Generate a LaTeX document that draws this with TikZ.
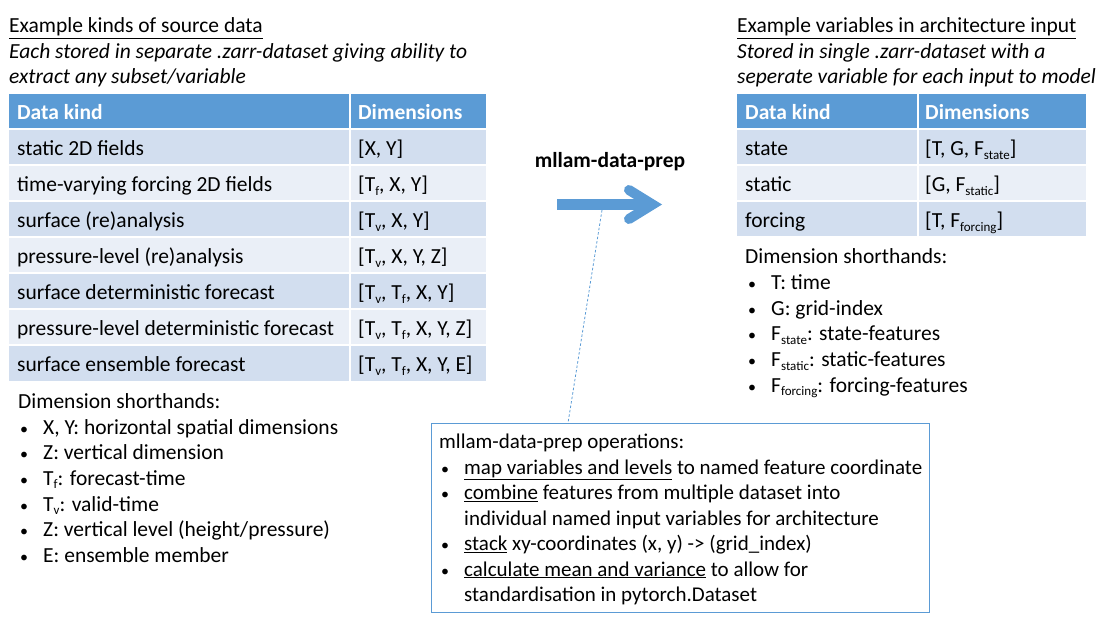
\documentclass[tikz,border=0pt]{standalone}
\usepackage{fontspec}
\setmainfont{Carlito}
\definecolor{hdr}{HTML}{5B9BD5}
\definecolor{rowA}{HTML}{D2DEEF}
\definecolor{rowB}{HTML}{EAEFF7}
\newcommand{\lsub}[1]{\raisebox{-0.35ex}{\fontsize{13}{13}\selectfont #1}}
\newcommand{\bul}{\makebox[23pt][l]{\fontsize{16}{16}\selectfont\textbullet}}
\begin{document}
\begin{tikzpicture}[x=1pt,y=-1pt,
  txt/.style={anchor=base west, inner sep=0pt, font=\fontsize{21.5}{24}\selectfont},
  boxtxt/.style={anchor=base west, inner sep=0pt, font=\fontsize{21}{24}\selectfont},
  hdrtxt/.style={txt, text=white, font=\fontsize{21.5}{24}\selectfont\bfseries},
  cellA/.style={fill=rowA},
  cellB/.style={fill=rowB},
  hdrcell/.style={fill=hdr},
  bigarrow/.style={draw=hdr, line width=10.5pt},
  dashlink/.style={draw=hdr, line width=0.8pt, dash pattern=on 2.5pt off 2pt},
  opsframe/.style={draw=hdr, line width=1pt}]
\useasboundingbox (0,0) rectangle (1108,617);

% ---------- Left block ----------
\node[txt] (ltitle) at (9,33) {\underline{Example kinds of source data}};
\node[txt, font=\fontsize{21.5}{24}\selectfont\itshape] (lsub1) at (9,59) {Each stored in separate .zarr-dataset giving ability to};
\node[txt, font=\fontsize{21.5}{24}\selectfont\itshape] (lsub2) at (9,84) {extract any subset/variable};

% table header
\fill[hdrcell] (9,94) rectangle (348.5,128.5);
\fill[hdrcell] (350.5,94) rectangle (486,128.5);
\node[hdrtxt] (lh1) at (17,119.5) {Data kind};
\node[hdrtxt] (lh2) at (358,119.5) {Dimensions};

% rows
\foreach \k/\st in {0/cellA,1/cellB,2/cellA,3/cellB,4/cellA,5/cellB,6/cellA}{
  \fill[\st] (9,130.5+36*\k) rectangle (348.5,164.5+36*\k);
  \fill[\st] (350.5,130.5+36*\k) rectangle (486,164.5+36*\k);
}
\node[txt] (lr1a) at (17,155.5) {static 2D fields};
\node[txt] (lr1b) at (358,155.5) {[X, Y]};
\node[txt] (lr2a) at (17,191.5) {time-varying forcing 2D fields};
\node[txt] (lr2b) at (358,191.5) {[T\lsub{f}, X, Y]};
\node[txt] (lr3a) at (17,227.5) {surface (re)analysis};
\node[txt] (lr3b) at (358,227.5) {[T\lsub{v}, X, Y]};
\node[txt] (lr4a) at (17,263.5) {pressure-level (re)analysis};
\node[txt] (lr4b) at (358,263.5) {[T\lsub{v}, X, Y, Z]};
\node[txt] (lr5a) at (17,299.5) {surface deterministic forecast};
\node[txt] (lr5b) at (358,299.5) {[T\lsub{v}, T\lsub{f}, X, Y]};
\node[txt] (lr6a) at (17,335.5) {pressure-level deterministic forecast};
\node[txt] (lr6b) at (358,335.5) {[T\lsub{v}, T\lsub{f}, X, Y, Z]};
\node[txt] (lr7a) at (17,371.5) {surface ensemble forecast};
\node[txt] (lr7b) at (358,371.5) {[T\lsub{v}, T\lsub{f}, X, Y, E]};

% shorthands
\node[txt] (lsh0) at (18,408) {Dimension shorthands:};
\node[txt] (lsh1) at (20,434) {\bul X, Y: horizontal spatial dimensions};
\node[txt] (lsh2) at (20,459.5) {\bul Z: vertical dimension};
\node[txt] (lsh3) at (20,485) {\bul T\lsub{f}: forecast-time};
\node[txt] (lsh4) at (20,511) {\bul T\lsub{v}: valid-time};
\node[txt] (lsh5) at (20,536.5) {\bul Z: vertical level (height/pressure)};
\node[txt] (lsh6) at (20,562) {\bul E: ensemble member};

% ---------- Middle ----------
\node[txt, font=\fontsize{21.5}{24}\selectfont\bfseries, anchor=base] (mtitle) at (610,167.5) {mllam-data-prep};
\coordinate (shaftS) at (557,204.5);
\coordinate (shaftE) at (650,204.5);
\coordinate (headT) at (629,190);
\coordinate (headV) at (652.5,204.5);
\coordinate (headB) at (629,219);
\draw[bigarrow] (shaftS) -- (shaftE);
\draw[bigarrow, line width=10pt, line cap=round, line join=miter] (headT) -- (headV) -- (headB);

% ops box
\draw[opsframe] (431,423) rectangle (929,612);
\coordinate (dashS) at (602,210);
\coordinate (dashE) at (568,423);
\draw[dashlink] (dashS) -- (dashE);
\node[boxtxt] (op0) at (439,448) {mllam-data-prep operations:};
\node[boxtxt] (op1) at (441,474) {\bul \underline{map variables and levels} to named feature coordinate};
\node[boxtxt] (op2) at (441,499.5) {\bul \underline{combine} features from multiple dataset into};
\node[boxtxt] (op3) at (464,525) {individual named input variables for architecture};
\node[boxtxt] (op4) at (441,550.5) {\bul \underline{stack} xy-coordinates (x, y) -> (grid\_index)};
\node[boxtxt] (op5) at (441,576) {\bul \underline{calculate mean and variance} to allow for};
\node[boxtxt] (op6) at (464,601.5) {standardisation in pytorch.Dataset};

% ---------- Right block ----------
\node[txt] (rtitle) at (737,33) {\underline{Example variables in architecture input}};
\node[txt, font=\fontsize{21.5}{24}\selectfont\itshape] (rsub1) at (737,59) {Stored in single .zarr-dataset with a};
\node[txt, font=\fontsize{21.5}{24}\selectfont\itshape] (rsub2) at (737,84) {seperate variable for each input to model};

\fill[hdrcell] (737,94) rectangle (916.5,128.5);
\fill[hdrcell] (918.5,94) rectangle (1086,128.5);
\node[hdrtxt] (rh1) at (745,119.5) {Data kind};
\node[hdrtxt] (rh2) at (925,119.5) {Dimensions};
\foreach \k/\st in {0/cellA,1/cellB,2/cellA}{
  \fill[\st] (737,130.5+36*\k) rectangle (916.5,164.5+36*\k);
  \fill[\st] (918.5,130.5+36*\k) rectangle (1086,164.5+36*\k);
}
\node[txt] (rr1a) at (745,155.5) {state};
\node[txt] (rr1b) at (925,155.5) {[T, G, F\lsub{state}]};
\node[txt] (rr2a) at (745,191.5) {static};
\node[txt] (rr2b) at (925,191.5) {[G, F\lsub{static}]};
\node[txt] (rr3a) at (745,227.5) {forcing};
\node[txt] (rr3b) at (925,227.5) {[T, F\lsub{forcing}]};

\node[txt] (rsh0) at (745,264) {Dimension shorthands:};
\node[txt] (rsh1) at (748,290) {\bul T: time};
\node[txt] (rsh2) at (748,315.5) {\bul G: grid-index};
\node[txt] (rsh3) at (748,341) {\bul F\lsub{state}: state-features};
\node[txt] (rsh4) at (748,366.5) {\bul F\lsub{static}: static-features};
\node[txt] (rsh5) at (748,392) {\bul F\lsub{forcing}: forcing-features};
\end{tikzpicture}
\end{document}
